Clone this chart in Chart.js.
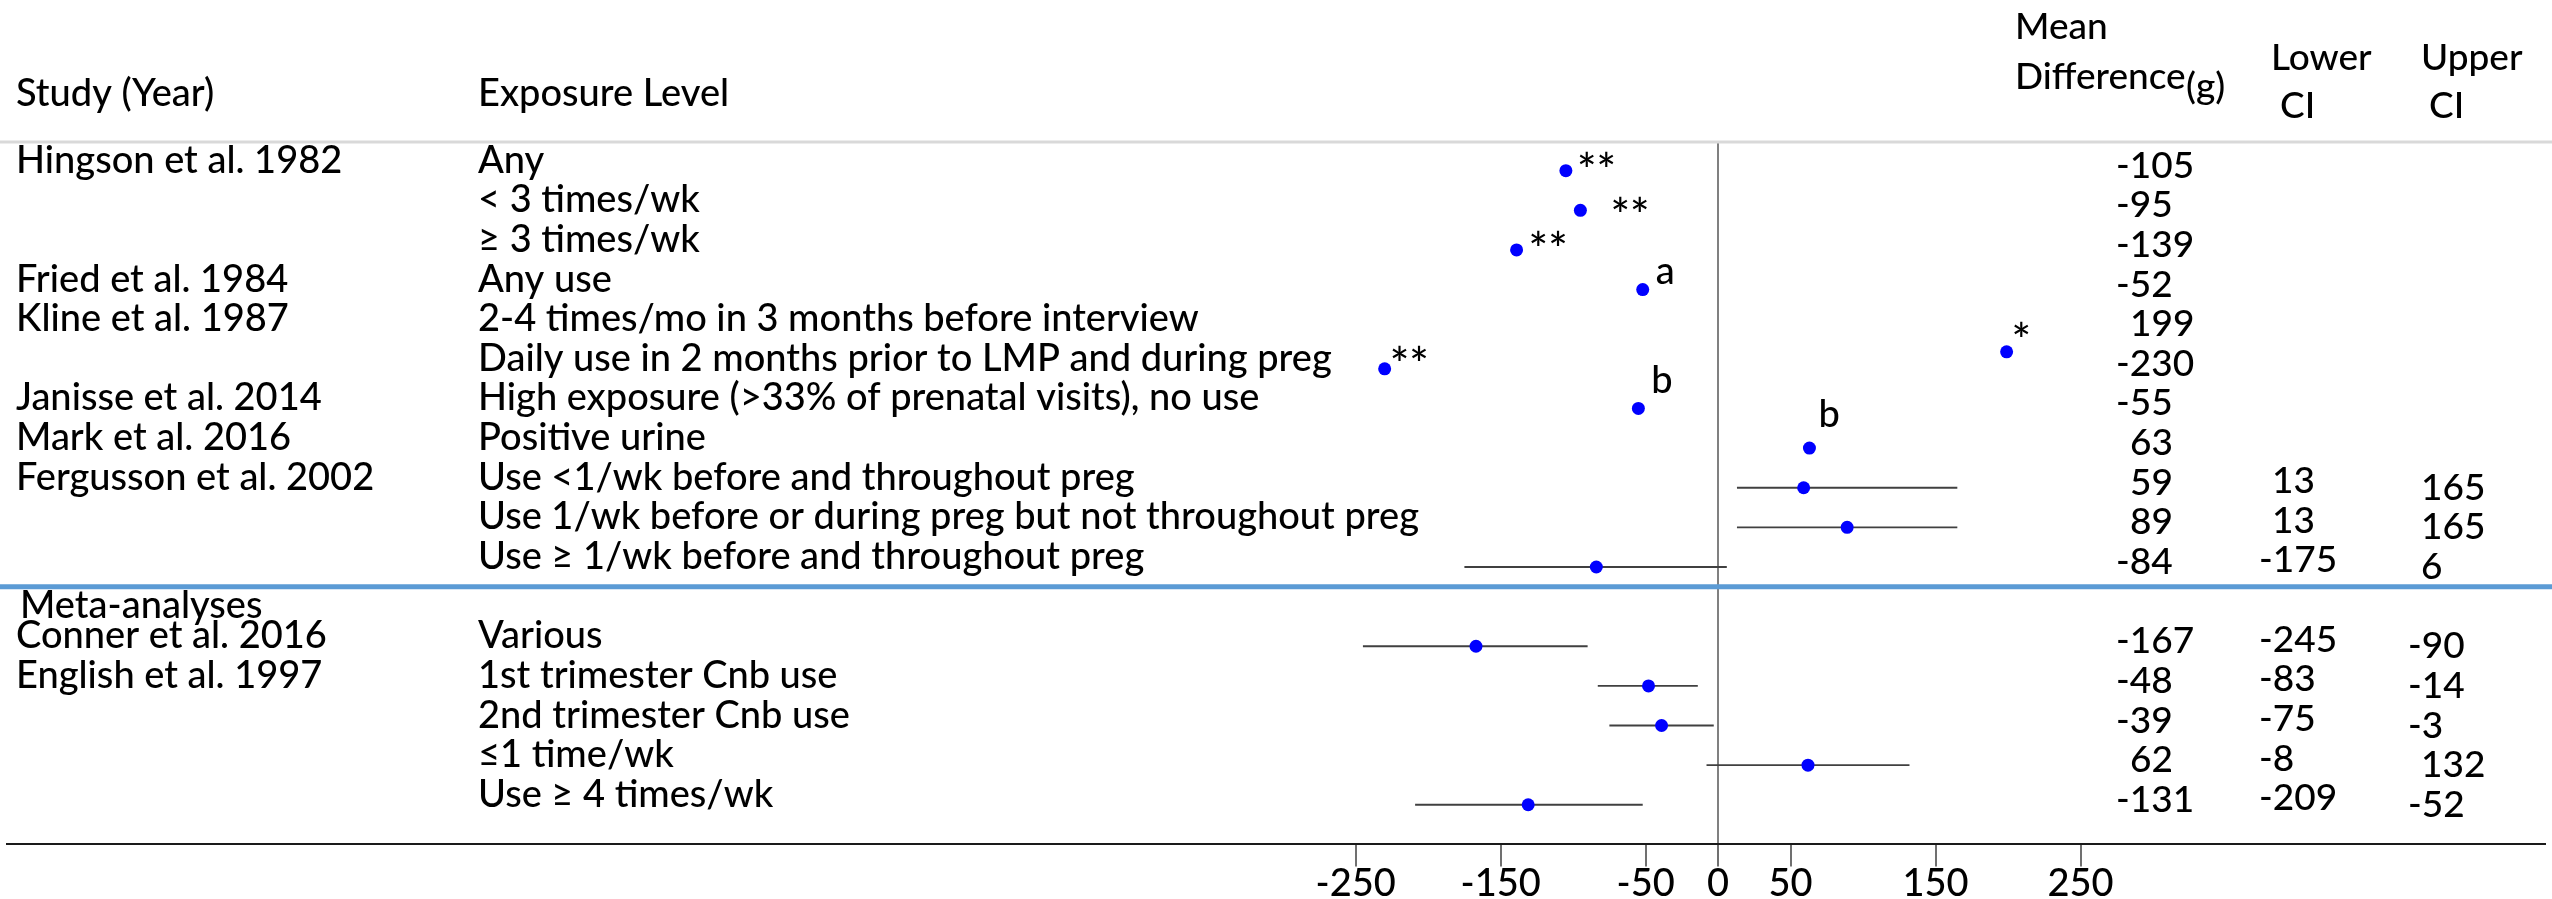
<!DOCTYPE html>
<html>
<head>
<meta charset="utf-8">
<script src="https://cdn.jsdelivr.net/npm/chart.js@4.4.1/dist/chart.umd.min.js"></script>
<style>
  html, body { margin: 0; padding: 0; background: #ffffff; overflow: hidden; }
  canvas { display: block; background: #ffffff; }
</style>
</head>
<body>
<canvas id="c" width="2552" height="899"></canvas>
<script>
// ---------------- DATA ----------------
const studies = ['Hingson et al. 1982', '', '', 'Fried et al. 1984', 'Kline et al. 1987', '',
  'Janisse et al. 2014', 'Mark et al. 2016', 'Fergusson et al. 2002', '', '',
  'Conner et al. 2016', 'English et al. 1997', '', '', ''];
const exposures = ['Any', '< 3 times/wk', '≥ 3 times/wk', 'Any use',
  '2-4 times/mo in 3 months before interview',
  'Daily use in 2 months prior to LMP and during preg',
  'High exposure (>33% of prenatal visits), no use', 'Positive urine',
  'Use <1/wk before and throughout preg',
  'Use 1/wk before or during preg but not throughout preg',
  'Use ≥ 1/wk before and throughout preg',
  'Various', '1st trimester Cnb use', '2nd trimester Cnb use', '≤1 time/wk', 'Use ≥ 4 times/wk'];
const meanDiff = [-105, -95, -139, -52, 199, -230, -55, 63, 59, 89, -84, -167, -48, -39, 62, -131];
const lowerCI  = [null, null, null, null, null, null, null, null, 13, 13, -175, -245, -83, -75, -8, -209];
const upperCI  = [null, null, null, null, null, null, null, null, 165, 165, 6, -90, -14, -3, 132, -52];
const marks    = ['**', '**', '**', 'a', '*', '**', 'b', 'b', '', '', '', '', '', '', '', ''];
// table row of each entry, and the row position at which its point is plotted
const tableRow = [0, 1, 2, 3, 4, 5, 6, 7, 8, 9, 10, 12, 13, 14, 15, 16];
const plotRow  = [0, 1, 2, 3, 4.57, 5, 6, 7, 8, 9, 10, 12, 13, 14, 15, 16];
const groupLabel = 'Meta-analyses';
const groupRow = 11;
const groupBreak = 10.5;
const tickValues = [-250, -150, -50, 0, 50, 150, 250];
const headerLeft = ['Study (Year)', 'Exposure Level'];
const headerRight = ['Mean', 'Difference', '(g)', 'Lower', 'CI', 'Upper', 'CI'];

// ---------------- LAYOUT / STYLE ----------------
const FONT = 'Lato, "Open Sans", sans-serif';
const WEIGHT = 500;
const FS = 38;          // table text
const FS_NUM = 37;      // numeric columns / right headers
const FS_STAR = 46;     // asterisk marks
const X_MIN = -1180.6, X_MAX = 570.7;       // zero line at ~1720 px, 1.457 px per gram
const Y_MIN = -0.724, Y_MAX = 16.99;         // rows 39.6 px apart, header rule at 142, axis at 844
const markOffset = [[11, 16], [30, 22], [12, 16], [13, -6], [5, 5], [5, 12], [13, -15], [9, -21]];
const L = {
  studyX: 16, exposureX: 478, headBaseline: 106,
  textDy: 2, groupX: 20, groupDy: 11,
  meanNeg: 2116, meanPos: 2130, meanDy: 7,
  lowNeg: 2259, lowPos: 2272, lowDy: 5.5,
  upNeg: 2408, upPos: 2421, upDy: 12
};

// CI segments built from the arrays (gap points break the line)
const ciPoints = [];
meanDiff.forEach((v, i) => {
  if (lowerCI[i] !== null && upperCI[i] !== null) {
    ciPoints.push({ x: lowerCI[i], y: plotRow[i] });
    ciPoints.push({ x: upperCI[i], y: plotRow[i] });
    ciPoints.push({ x: upperCI[i], y: null });
  }
});

const tablePlugin = {
  id: 'forestTable',
  beforeDatasetsDraw(chart) {
    const ctx = chart.ctx, area = chart.chartArea;
    ctx.save();
    ctx.strokeStyle = '#d9d9d9';
    ctx.lineWidth = 3;
    ctx.beginPath(); ctx.moveTo(0, area.top); ctx.lineTo(chart.width, area.top); ctx.stroke();
    ctx.restore();
  },
  afterDraw(chart) {
    const ctx = chart.ctx, xs = chart.scales.x, ys = chart.scales.y;
    ctx.save();
    // group separator
    const by = ys.getPixelForValue(groupBreak);
    ctx.strokeStyle = '#5b9bd5';
    ctx.lineWidth = 5;
    ctx.beginPath(); ctx.moveTo(0, by); ctx.lineTo(chart.width, by); ctx.stroke();

    ctx.fillStyle = '#000000';
    ctx.textAlign = 'left';
    ctx.textBaseline = 'alphabetic';
    const tableFont = `${WEIGHT} ${FS}px ${FONT}`;
    const numFont = `${WEIGHT} ${FS_NUM}px ${FONT}`;

    // left headers
    ctx.font = tableFont;
    ctx.fillText(headerLeft[0], L.studyX, L.headBaseline);
    ctx.fillText(headerLeft[1], L.exposureX, L.headBaseline);
    // right headers
    ctx.font = numFont;
    ctx.fillText(headerRight[0], 2015, 39);
    ctx.fillText(headerRight[1], 2015, 89);
    ctx.fillText(headerRight[2], 2186, 99);
    ctx.fillText(headerRight[3], 2271, 70);
    ctx.fillText(headerRight[4], 2280, 118);
    ctx.fillText(headerRight[5], 2421, 70);
    ctx.fillText(headerRight[6], 2429, 118);

    // group label
    ctx.font = tableFont;
    ctx.fillText(groupLabel, L.groupX, ys.getPixelForValue(groupRow) + L.groupDy);

    meanDiff.forEach((v, i) => {
      const ry = ys.getPixelForValue(tableRow[i]);
      ctx.font = tableFont;
      if (studies[i]) ctx.fillText(studies[i], L.studyX, ry + L.textDy);
      ctx.fillText(exposures[i], L.exposureX, ry + L.textDy);
      if (marks[i]) {
        const off = markOffset[i];
        ctx.font = marks[i].indexOf('*') >= 0 ? `${WEIGHT} ${FS_STAR}px ${FONT}` : tableFont;
        ctx.fillText(marks[i], xs.getPixelForValue(v) + off[0], ys.getPixelForValue(plotRow[i]) + off[1]);
      }
      ctx.font = numFont;
      ctx.fillText(String(v), v < 0 ? L.meanNeg : L.meanPos, ry + L.meanDy);
      if (lowerCI[i] !== null) ctx.fillText(String(lowerCI[i]), lowerCI[i] < 0 ? L.lowNeg : L.lowPos, ry + L.lowDy);
      if (upperCI[i] !== null) ctx.fillText(String(upperCI[i]), upperCI[i] < 0 ? L.upNeg : L.upPos, ry + L.upDy);
    });
    ctx.restore();
  }
};

new Chart(document.getElementById('c'), {
  type: 'scatter',
  data: {
    datasets: [
      {
        label: 'Mean difference (g)',
        data: meanDiff.map((v, i) => ({ x: v, y: plotRow[i] })),
        pointRadius: 6.5,
        pointBackgroundColor: '#0000ff',
        pointBorderColor: '#0000ff',
        pointBorderWidth: 0,
        showLine: false
      },
      {
        type: 'line',
        label: '95% CI',
        data: ciPoints,
        borderColor: '#404040',
        borderWidth: 1.8,
        pointRadius: 0,
        showLine: true,
        spanGaps: false,
        fill: false,
        tension: 0
      }
    ]
  },
  options: {
    responsive: false,
    animation: false,
    devicePixelRatio: 1,
    events: [],
    layout: { padding: { top: 142, left: 0, right: 0, bottom: 0 } },
    plugins: { legend: { display: false }, tooltip: { enabled: false } },
    scales: {
      x: {
        type: 'linear',
        min: X_MIN,
        max: X_MAX,
        afterBuildTicks: s => { s.ticks = tickValues.map(v => ({ value: v })); },
        afterFit: s => { s.height = 55; },
        ticks: {
          autoSkip: false, maxRotation: 0, minRotation: 0,
          color: '#000000', padding: -2,
          font: { family: FONT, size: 38, weight: WEIGHT, lineHeight: 1 },
          callback: v => String(v)
        },
        grid: {
          drawOnChartArea: true,
          drawTicks: true,
          tickLength: 22.4,
          color: c => (c.tick && c.tick.value === 0) ? '#808080' : 'rgba(0,0,0,0)',
          lineWidth: c => (c.tick && c.tick.value === 0) ? 2 : 0,
          tickColor: '#404040',
          tickWidth: 1.5
        },
        border: { display: true, color: '#1a1a1a', width: 2 }
      },
      y: { type: 'linear', display: false, reverse: true, min: Y_MIN, max: Y_MAX }
    }
  },
  plugins: [tablePlugin]
});
</script>
</body>
</html>
